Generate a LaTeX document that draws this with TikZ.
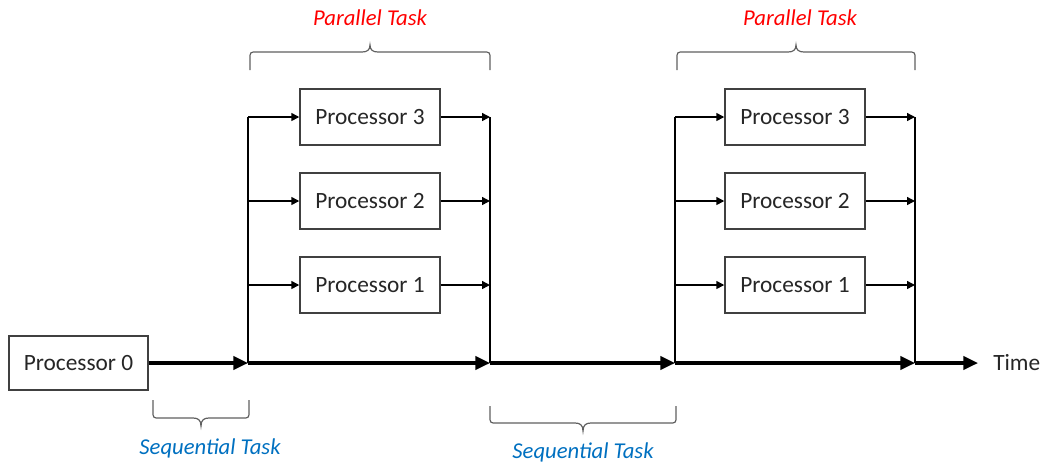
\documentclass[tikz,border=0pt]{standalone}
\usepackage{fontspec}
\setmainfont{Carlito}
\usetikzlibrary{arrows.meta}
\definecolor{taskred}{HTML}{FF0000}
\definecolor{taskblue}{HTML}{0070C0}
\definecolor{boxline}{HTML}{404040}
\definecolor{braceline}{HTML}{606060}
\begin{document}
\begin{tikzpicture}[x=0.75pt,y=-0.75pt,
  proc/.style={draw=boxline, line width=1.1pt, minimum width=105pt,
    minimum height=42pt, inner sep=0pt, fill=white,
    font=\fontsize{17.5}{20}\selectfont, text=black!85},
  timeline/.style={line width=2.3pt, -{Triangle[length=11pt,width=10pt]}},
  branch/.style={line width=1.1pt, -{Triangle[length=6pt,width=6pt]}},
  rail/.style={line width=1.1pt},
  brace/.style={draw=braceline, line width=0.9pt},
  partask/.style={font=\fontsize{17}{20}\selectfont\itshape, text=taskred},
  seqtask/.style={font=\fontsize{17}{20}\selectfont\itshape, text=taskblue}]
\useasboundingbox (0,0) rectangle (1043,462);

% sequential start
\node[proc, minimum width=104pt, minimum height=40.5pt] (p0) at (78.5,363) {Processor 0};

% main time axis junctions
\coordinate (fork1) at (248,363);
\coordinate (join1) at (490,363);
\coordinate (fork2) at (675,363);
\coordinate (join2) at (915,363);
\coordinate (tend) at (978,363);
\node[anchor=west, font=\fontsize{17.5}{20}\selectfont, text=black!85, inner sep=0pt] (time) at (993,363) {Time};

% first parallel block
\node[proc] (a3) at (370,117) {Processor 3};
\node[proc] (a2) at (370,201) {Processor 2};
\node[proc] (a1) at (370,285) {Processor 1};

% second parallel block
\node[proc] (b3) at (795,117) {Processor 3};
\node[proc] (b2) at (795,201) {Processor 2};
\node[proc] (b1) at (795,285) {Processor 1};

% rails
\draw[rail] (fork1) -- (fork1 |- a3);
\draw[rail] (join1 |- a3) -- (join1);
\draw[rail] (fork2) -- (fork2 |- b3);
\draw[rail] (join2 |- b3) -- (join2);

% branches
\foreach \n in {a1,a2,a3} {
  \draw[branch] (fork1 |- \n) -- (\n.west);
  \draw[branch] (\n.east) -- (join1 |- \n);
}
\foreach \n in {b1,b2,b3} {
  \draw[branch] (fork2 |- \n) -- (\n.west);
  \draw[branch] (\n.east) -- (join2 |- \n);
}

% time axis
\draw[timeline] (p0.east) -- (fork1);
\draw[timeline] (fork1) -- (join1);
\draw[timeline] (join1) -- (fork2);
\draw[timeline] (fork2) -- (join2);
\draw[timeline] (join2) -- (tend);

% braces over the parallel blocks
\draw[brace] (250,70) -- (250,59) .. controls (250,52) .. (257,52) -- (362,52)
  .. controls (367,52) and (370,50) .. (370,45)
  .. controls (370,50) and (373,52) .. (378,52) -- (483,52)
  .. controls (490,52) .. (490,59) -- (490,70);
\draw[brace] (677,70) -- (677,59) .. controls (677,52) .. (684,52) -- (788,52)
  .. controls (793,52) and (796,50) .. (796,45)
  .. controls (796,50) and (799,52) .. (804,52) -- (908,52)
  .. controls (915,52) .. (915,59) -- (915,70);

% braces under the sequential stretches
\draw[brace] (153,400) -- (153,411) .. controls (153,418) .. (160,418) -- (193,418)
  .. controls (198,418) and (201,420) .. (201,426)
  .. controls (201,420) and (204,418) .. (209,418) -- (242,418)
  .. controls (249,418) .. (249,411) -- (249,400);
\draw[brace] (490,406) -- (490,416) .. controls (490,423) .. (497,423) -- (575,423)
  .. controls (580,423) and (583,425) .. (583,431)
  .. controls (583,425) and (586,423) .. (591,423) -- (669,423)
  .. controls (676,423) .. (676,416) -- (676,406);

% labels
\node[partask] (lp1) at (370,18) {Parallel Task};
\node[partask] (lp2) at (800,18) {Parallel Task};
\node[seqtask] (ls1) at (210,448) {Sequential Task};
\node[seqtask] (ls2) at (583,452) {Sequential Task};
\end{tikzpicture}
\end{document}
